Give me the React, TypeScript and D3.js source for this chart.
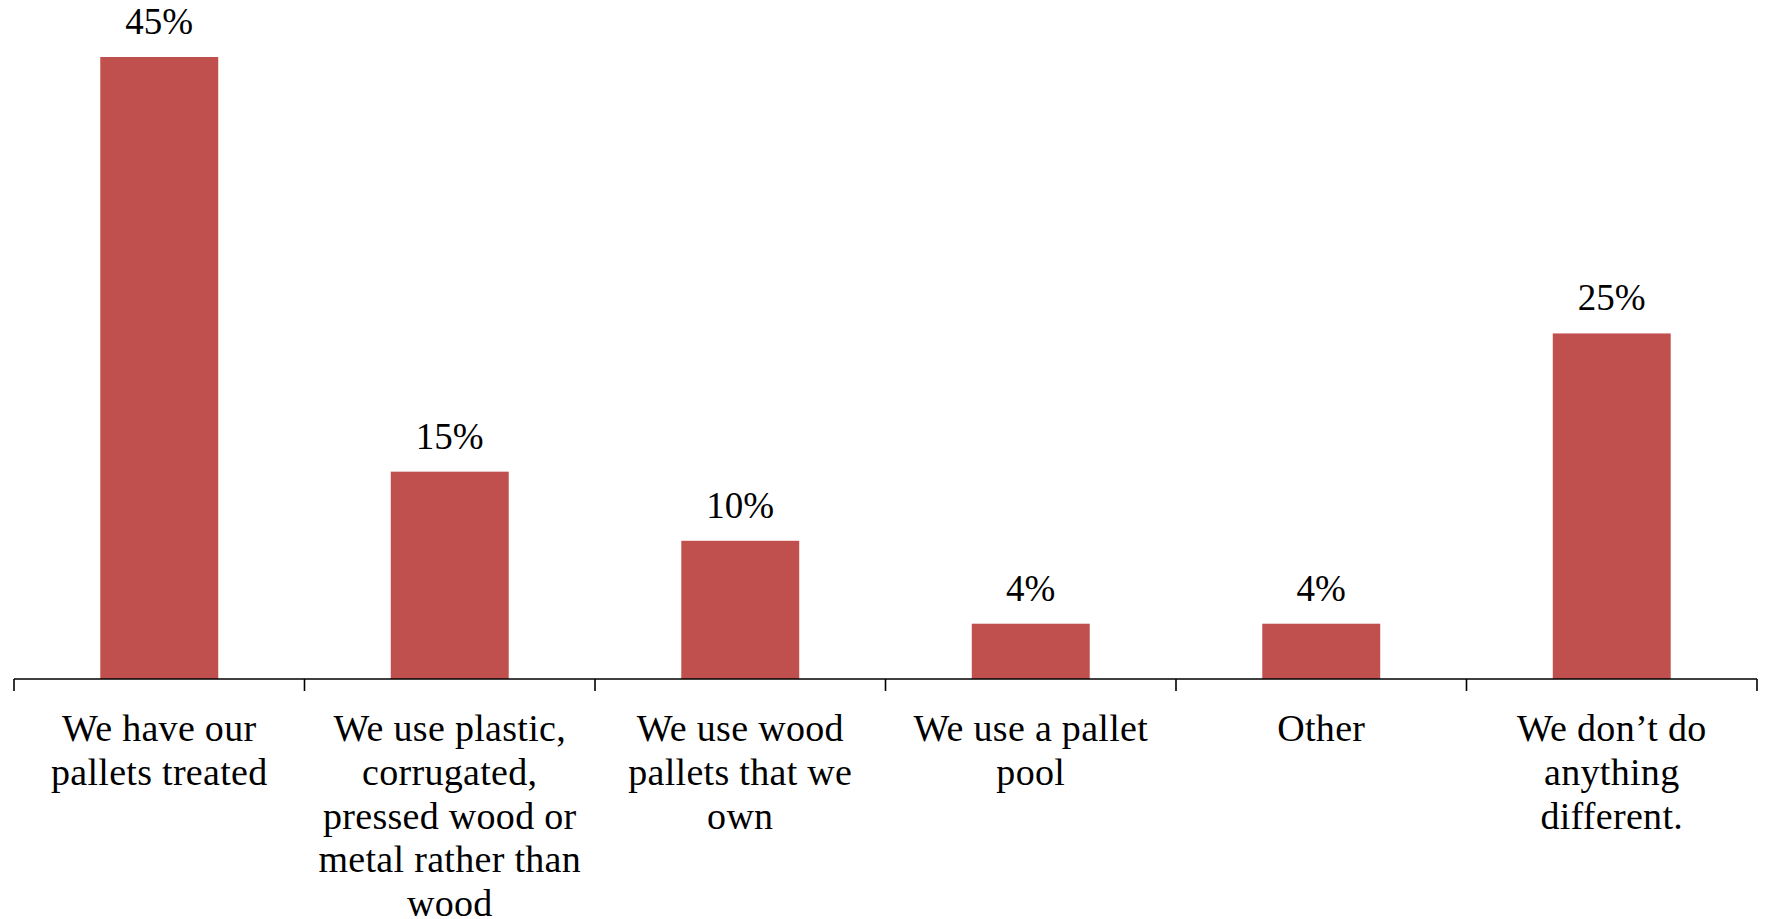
import React from "react";
import * as d3 from "d3";

const categories: string[][] = [
  ["We have our", "pallets treated"],
  ["We use plastic,", "corrugated,", "pressed wood or", "metal rather than", "wood"],
  ["We use wood", "pallets that we", "own"],
  ["We use a pallet", "pool"],
  ["Other"],
  ["We don\u2019t do", "anything", "different."],
];
const values: number[] = [45, 15, 10, 4, 4, 25];
const valueLabels: string[] = ["45%", "15%", "10%", "4%", "4%", "25%"];

const W = 1766;
const H = 919;
const FONT = "'Liberation Serif', 'Times New Roman', serif";

export default function App() {
  const ids = categories.map((_, i) => String(i));
  const x = d3
    .scaleBand<string>()
    .domain(ids)
    .range([14, 1757])
    .paddingInner(0.594)
    .paddingOuter(0.297);
  const y = d3.scaleLinear().domain([0, 45]).range([679, 57]);
  const step = x.step();
  const x0 = 14;
  const tickXs = d3.range(ids.length + 1).map((i) => x0 + i * step);

  return (
    <div style={{ position: "absolute", left: 0, top: 0 }}>
      <svg width={W} height={H} style={{ display: "block", background: "#fff" }}>
        {values.map((v, i) => (
          <rect
            key={"b" + i}
            x={x(ids[i])}
            y={y(v)}
            width={x.bandwidth()}
            height={y(0) - y(v)}
            fill="#C0504D"
          />
        ))}
        {values.map((v, i) => (
          <text
            key={"v" + i}
            x={(x(ids[i]) as number) + x.bandwidth() / 2}
            y={y(v) - 23}
            textAnchor="middle"
            fontFamily={FONT}
            fontSize={37}
            fill="#000"
          >
            {valueLabels[i]}
          </text>
        ))}
        <line x1={14} x2={1757} y1={679} y2={679} stroke="#000" strokeWidth={1.6} />
        {tickXs.map((tx, i) => (
          <line key={"t" + i} x1={tx} x2={tx} y1={679} y2={691} stroke="#000" strokeWidth={1.6} />
        ))}
        {categories.map((lines, i) => (
          <text
            key={"c" + i}
            textAnchor="middle"
            fontFamily={FONT}
            fontSize={38}
            letterSpacing={0.3}
            fill="#000"
          >
            {lines.map((ln, j) => (
              <tspan key={j} x={(x(ids[i]) as number) + x.bandwidth() / 2} y={741 + j * 43.8}>
                {ln}
              </tspan>
            ))}
          </text>
        ))}
      </svg>
    </div>
  );
}
